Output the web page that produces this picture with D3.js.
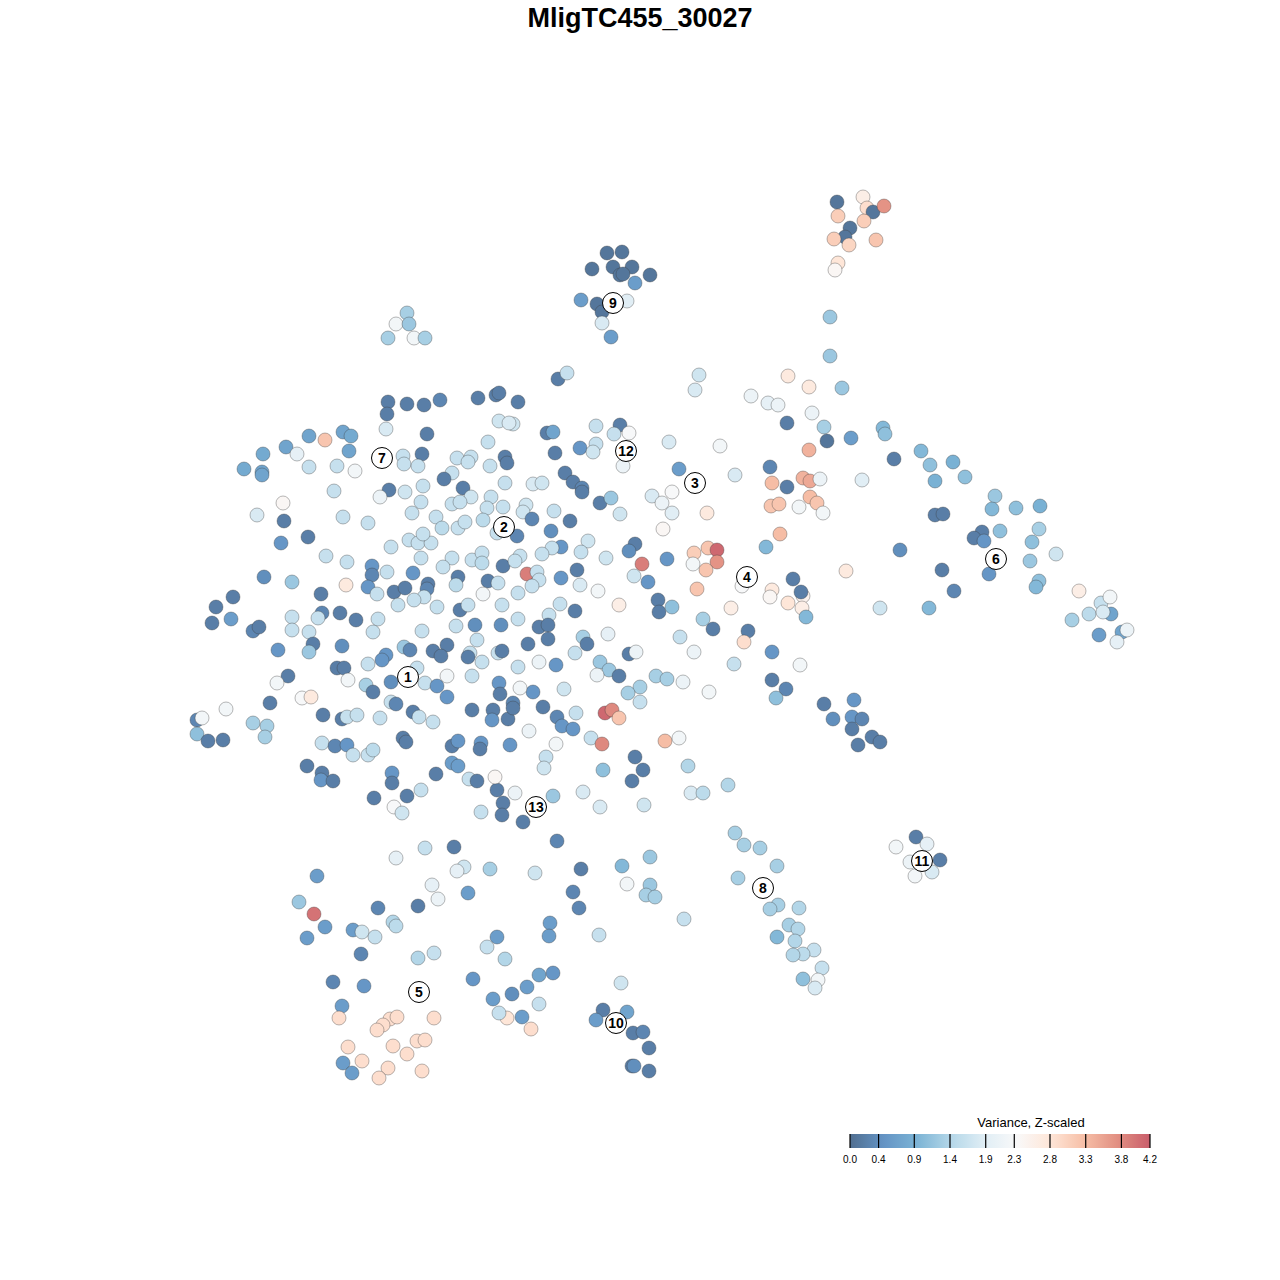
<!DOCTYPE html>
<html>
<head>
<meta charset="utf-8">
<script src="https://cdn.jsdelivr.net/npm/d3@7"></script>
<style>
  body { margin: 0; background: #fff; }
  text { font-family: "Liberation Sans", Arial, sans-serif; }
</style>
</head>
<body>
<div id="chart"></div>
<script>
let svgWidth = 1280;
let svgHeight = 1280;

// t-SNE coordinates [tsne_1, tsne_2, variance z-scaled], grouped by region
let ptsTopRight = [
  [17.7,43.8,0.1],[20.3,44.3,2.6],[20.7,43.2,2.9],[21.3,42.8,0.1],[22.4,43.4,3.7],[17.8,42.4,3.1],
  [20.4,41.9,3.1],[19.0,41.2,0.1],[18.5,40.3,0.1],[17.4,40.1,3.1],[18.9,39.5,3.0],[21.6,40.0,3.2],
  [17.8,37.7,2.8],[17.5,37.0,2.4],[17.0,32.3,1.2],[17.0,28.4,1.2],[18.2,25.2,1.2],[16.4,21.3,1.3],
  [16.7,19.9,0.1],[19.1,20.2,0.6],[22.3,21.2,1.0],[22.5,20.6,1.1],[23.4,18.1,0.2],[26.1,18.9,1.0],
  [27.0,17.5,1.1],[29.3,17.8,0.9],[30.5,16.3,1.1],[27.5,15.9,0.9],[20.2,16.0,1.9]
];

let ptsRight = [
  [33.5,14.4,1.2],[33.2,13.1,1.0],[35.6,13.2,1.1],[38.0,13.4,0.9],[27.5,12.5,0.2],[28.3,12.6,0.2],
  [32.2,10.8,0.2],[31.4,10.2,0.2],[32.4,9.9,0.5],[34.0,10.9,1.1],[37.9,11.1,1.3],[37.2,9.8,1.1],
  [24.0,9.0,0.4],[39.6,8.6,1.7],[37.0,7.9,1.2],[18.6,6.9,2.7],[28.2,7.0,0.2],[32.9,6.6,0.5],
  [37.9,5.9,1.1],[37.6,5.3,1.0],[29.4,4.9,0.3],[41.9,4.9,2.6],[22.0,3.2,1.7],[26.9,3.2,1.0],
  [44.1,3.7,1.6],[45.0,4.3,2.2],[45.1,2.6,0.7],[42.9,2.6,1.5],[44.3,2.8,1.8],[41.2,2.0,1.3],
  [43.9,0.5,0.6],[46.2,0.8,0.7],[46.7,1.0,2.1],[45.7,-0.2,2.0],[19.4,-6.0,0.5],[17.3,-7.9,0.4],
  [19.2,-7.7,0.5],[20.2,-7.9,0.3],[19.2,-8.9,0.2],[21.2,-9.7,0.2],[22.0,-10.2,0.2],[19.8,-10.5,0.2],
  [16.4,-6.4,0.2]
];

let ptsCluster11 = [
  [25.6,-19.7,0.2],[26.7,-20.4,2.0],[23.6,-20.7,2.2],[25.0,-22.2,2.1],[28.0,-22.0,0.2],
  [27.2,-23.2,1.8],[25.5,-23.6,2.2]
];

let ptsBottomMid = [
  [-14.5,-15.3,2.1],[-10.7,-15.6,1.2],[-7.7,-15.2,1.8],[-6.0,-16.7,1.8],[-1.6,-16.5,1.7],[3.1,-15.3,1.8],
  [4.3,-15.3,1.5],[6.8,-14.5,1.4],[-13.7,-18.2,0.2],[-10.3,-20.1,0.3],[7.5,-19.3,1.3],[8.4,-20.5,1.3],
  [10.0,-20.8,1.3],[11.7,-22.6,1.3],[7.8,-23.8,1.3],[-12.5,-23.3,1.7],[-7.9,-22.9,0.2],[-3.8,-22.6,1.0],
  [-1.0,-21.7,1.2],[-3.3,-24.4,2.2],[-1.0,-24.5,1.2],[-1.4,-25.5,1.3],[-0.5,-25.7,1.3],[-8.7,-25.2,0.3],
  [-8.1,-26.8,0.3],[2.4,-27.9,1.6],[11.8,-26.5,1.3],[11.0,-26.9,1.3],[13.9,-26.8,1.4],[12.9,-28.5,1.3],
  [13.8,-28.9,1.4],[11.7,-29.7,1.0],[13.5,-30.1,1.4],[15.4,-31.0,1.6],[14.3,-31.4,1.5],[13.3,-31.5,1.4],
  [16.2,-32.8,1.6],[15.8,-34.0,2.2],[15.5,-34.8,1.8],[14.3,-33.9,1.1],[-11.0,-28.3,0.6],[-11.1,-29.6,0.6],
  [-6.1,-29.5,1.6],[-12.1,-33.5,0.7],[-10.7,-33.3,0.5],[-13.3,-34.7,0.6],[-14.8,-35.4,0.4],[-12.1,-36.4,1.6],
  [-13.8,-37.7,0.6],[-15.3,-37.8,2.8],[-12.9,-38.9,2.9],[-3.9,-34.3,1.7],[-5.7,-37.0,0.2],[-3.3,-37.2,0.7],
  [-6.4,-38.0,0.6],[-2.7,-39.3,0.2],[-1.7,-39.2,0.3],[-1.1,-40.8,0.2],[-2.8,-42.6,0.2],[-2.6,-42.6,0.4],
  [-1.1,-43.1,0.2]
];

let ptsBottomLeft = [
  [-28.6,-15.8,0.2],[-25.3,-15.6,0.2],[-23.9,-15.0,1.6],[-26.6,-16.7,2.3],[-25.8,-17.3,1.7],[-16.3,-15.0,0.2],
  [-15.7,-16.3,0.2],[-15.8,-17.5,0.2],[-17.9,-17.2,1.6],[-23.5,-20.8,1.6],[-20.6,-20.7,0.2],[-26.4,-21.8,2.0],
  [-19.6,-22.7,1.7],[-20.3,-23.1,2.0],[-17.0,-22.9,1.3],[-34.3,-23.6,0.6],[-22.8,-24.5,2.0],[-22.2,-25.9,2.1],
  [-19.2,-25.3,0.6],[-24.2,-26.6,0.2],[-28.2,-26.8,0.3],[-36.1,-26.2,1.2],[-34.6,-27.4,4.0],[-33.5,-28.7,0.6],
  [-35.3,-29.8,0.6],[-30.7,-29.0,0.6],[-29.8,-29.2,1.7],[-28.5,-29.7,1.6],[-26.7,-28.2,1.4],[-26.4,-28.6,1.5],
  [-16.3,-29.7,0.6],[-17.3,-30.7,1.6],[-15.5,-31.9,1.4],[-29.9,-31.4,0.3],[-24.2,-31.8,1.4],[-22.6,-31.3,1.6],
  [-32.7,-34.2,0.3],[-29.6,-34.6,0.5],[-18.7,-33.9,0.5],[-16.7,-35.9,0.6],[-31.8,-36.6,0.6],[-32.1,-37.8,2.9],
  [-16.1,-37.3,1.6],[-27.0,-37.9,2.9],[-26.3,-37.7,2.9],[-27.7,-38.5,2.9],[-28.3,-39.0,2.9],[-22.6,-37.8,2.9],
  [-31.2,-40.7,2.9],[-26.7,-40.6,2.9],[-24.3,-40.1,2.9],[-23.5,-40.0,2.9],[-25.3,-41.4,2.9],[-29.8,-42.1,2.9],
  [-31.7,-42.3,0.6],[-30.8,-43.3,0.6],[-27.2,-42.8,2.9],[-28.1,-43.8,2.9],[-23.8,-43.1,2.9]
];

let ptsTopMid = [
  [-5.3,38.7,0.1],[-3.8,38.8,0.1],[-6.8,37.1,0.1],[-4.7,37.3,0.1],[-2.8,37.3,0.1],[-4.0,36.5,0.1],
  [-3.7,36.6,0.1],[-1.0,36.5,0.1],[-2.5,35.7,0.6],[-7.9,34.0,0.6],[-6.3,33.6,0.1],[-5.8,32.8,0.1],
  [-3.3,33.9,1.9],[-5.8,31.7,1.8],[-4.9,30.3,0.6],[-10.2,26.1,0.2],[-9.3,26.7,1.6],[-14.2,23.8,0.2],
  [3.9,26.5,1.7],[3.5,25.0,1.8],[9.1,24.4,2.1],[10.8,23.7,2.0],[11.8,23.5,2.1],[12.8,26.4,2.7],
  [14.9,25.3,2.7],[15.2,22.7,2.1],[12.7,21.7,0.2],[14.9,19.0,3.4],[-14.7,21.6,1.7],[-11.3,20.7,0.2],
  [-10.7,20.8,0.7],[-6.4,21.4,1.6],[-4.0,21.5,0.2],[-4.6,20.6,1.6],[-3.1,20.7,2.3],[-10.5,18.7,0.2],
  [-8.0,19.2,0.5],[-6.4,19.6,1.6],[-6.7,18.8,1.7],[-3.7,17.4,2.1],[0.9,19.8,1.8],[6.0,19.4,2.2],
  [1.9,17.1,0.6],[7.5,16.5,1.8],[11.0,17.3,0.3],[11.2,15.7,3.3],[12.7,15.3,0.2],[14.3,16.2,3.4],
  [15.0,15.9,3.5],[16.0,16.1,2.1],[-9.5,16.7,0.2],[-8.7,15.8,0.2],[-7.8,15.2,0.3],[-12.7,15.6,1.8],
  [-11.8,15.7,1.7]
];

let ptsTopLeft = [
  [-25.3,32.7,1.3],[-26.4,31.6,2.2],[-25.1,31.6,1.2],[-27.2,30.2,1.3],[-24.6,30.2,2.2],[-23.5,30.2,1.3],
  [-27.2,23.8,0.2],[-25.3,23.6,0.2],[-23.6,23.5,0.2],[-22.0,24.0,0.3],[-27.3,22.6,0.2],[-18.2,24.2,0.2],
  [-16.4,24.5,0.2],[-16.1,24.7,0.2],[-27.4,21.1,1.8],[-23.3,20.6,0.2],[-16.1,21.9,1.7],[-15.1,21.7,1.8],
  [-35.1,20.4,0.7],[-33.5,20.0,3.2],[-31.7,20.8,0.7],[-30.9,20.4,0.8],[-31.1,18.9,0.7],[-17.2,19.8,1.6],
  [-37.4,19.3,0.7],[-39.7,18.6,0.8],[-36.3,18.6,2.0],[-23.8,18.6,0.2],[-25.7,18.4,1.6],[-25.6,17.6,1.6],
  [-24.2,17.4,1.6],[-41.6,17.1,0.8],[-39.8,16.8,0.7],[-39.8,16.5,0.7],[-35.1,17.3,1.6],[-32.3,17.4,1.6],
  [-30.5,16.9,2.2],[-20.3,18.2,1.6],[-18.9,18.3,1.6],[-19.2,17.8,1.6],[-20.8,16.7,1.6],[-21.6,16.1,0.2],
  [-17.0,17.4,1.6],[-15.5,18.3,0.2],[-15.3,17.7,0.2],[-15.5,15.7,1.6],[-27.1,15.0,0.2],[-25.5,14.8,1.7],
  [-23.7,15.4,1.6],[-19.7,15.2,0.2],[-32.6,14.9,1.6]
];

let ptsMidLeft = [
  [-28.0,14.3,2.1],[-37.7,13.7,2.4],[-40.3,12.5,1.8],[-37.6,11.9,0.2],[-31.7,12.3,1.6],[-29.2,11.7,1.6],
  [-24.8,12.7,1.6],[-23.9,13.8,1.6],[-22.4,12.3,1.6],[-20.8,13.6,1.6],[-18.9,14.3,1.7],[-20.0,13.8,1.6],
  [-16.9,14.3,1.6],[-17.3,13.2,1.6],[-15.7,13.3,1.6],[-17.7,12.0,1.5],[-21.8,11.2,1.5],[-20.2,11.2,1.6],
  [-19.5,11.8,1.6],[-16.3,10.7,1.6],[-35.2,10.3,0.2],[-37.9,9.7,0.5],[-25.1,10.0,1.6],[-24.2,9.7,1.6],
  [-22.9,9.7,1.6],[-23.7,10.6,1.6],[-26.9,9.3,1.6],[-23.9,8.2,1.6],[-18.8,8.0,1.6],[-17.8,8.7,1.6],
  [-17.8,7.7,1.5],[-20.8,8.2,1.6],[-21.7,7.3,1.6],[-15.7,7.4,0.2],[-33.4,8.4,1.6],[-31.3,7.8,1.6],
  [-28.8,7.4,0.5],[-28.8,6.5,0.3],[-27.3,6.8,1.6],[-24.7,6.7,0.5],[-20.2,6.3,0.2],[-39.6,6.3,0.4],
  [-36.8,5.8,1.2],[-31.4,5.5,2.7],[-29.2,5.3,0.5],[-28.3,4.6,1.6],[-26.6,4.8,0.2],[-25.5,5.2,0.2],
  [-23.2,5.6,0.2],[-23.3,5.1,0.3],[-23.6,4.3,1.6],[-24.6,4.0,1.6],[-26.2,3.5,1.6],[-22.3,3.3,1.6],
  [-20.4,5.5,1.5],[-17.2,5.9,0.2],[-16.2,5.7,1.6],[-17.7,4.6,2.2],[-42.7,4.3,0.2],[-44.4,3.3,0.2],
  [-44.8,1.7,0.2],[-42.9,2.1,0.6],[-33.9,4.6,0.2],[-33.8,2.7,0.3],[-32.0,2.7,0.2],[-30.4,2.0,0.2],
  [-36.8,2.3,1.6],[-34.2,2.2,1.6],[-36.8,1.0,1.6],[-35.1,0.8,1.6],[-28.2,2.1,1.6],[-28.7,0.8,1.6],
  [-20.0,3.0,0.2],[-19.2,3.5,1.6],[-15.8,3.5,1.6],[-20.4,1.4,1.6],[-18.5,1.5,0.4],[-15.9,1.5,0.4],
  [-18.3,0.0,1.6],[-23.8,0.9,1.6],[-40.7,0.9,0.3],[-40.1,1.3,0.2],[-34.7,-0.4,0.2],[-35.1,-1.2,1.2],
  [-31.8,-0.6,0.4],[-38.2,-1.0,0.5],[-25.6,-0.7,1.2],[-25.0,-1.0,0.3],[-27.4,-1.5,0.5],[-27.8,-2.0,0.5],
  [-22.7,-1.1,0.2],[-21.3,-0.5,0.2],[-21.9,-1.6,0.2],[-19.0,-1.3,1.6],[-19.2,-1.7,0.2],[-17.8,-2.2,1.6],
  [-16.2,-1.3,1.6],[-15.8,-1.1,0.2],[-29.2,-2.4,1.6],[-32.3,-2.8,0.2],[-31.6,-2.8,0.2],[-37.2,-3.6,0.2],
  [-38.3,-4.3,2.2],[-31.2,-4.0,2.2],[-24.3,-2.8,1.6],[-21.3,-3.6,2.2],[-18.8,-3.6,1.6],[-23.5,-4.3,1.6],
  [-26.9,-4.2,0.4],[-29.4,-4.5,1.3],[-28.7,-5.2,0.2],[-22.3,-4.6,0.5],[-21.3,-5.7,0.5],[-16.1,-4.3,0.5],
  [-16.0,-5.4,0.2],[-35.8,-5.8,2.3],[-34.9,-5.7,2.7],[-39.0,-6.3,0.2],[-43.4,-6.9,2.2],[-46.3,-8.0,0.3],
  [-45.8,-7.8,2.2],[-46.3,-9.4,1.1],[-45.2,-10.1,0.2],[-43.7,-10.0,0.2],[-40.7,-8.3,1.3],[-39.3,-8.6,1.3],
  [-39.5,-9.7,1.3],[-33.7,-7.5,0.2],[-31.8,-7.9,0.2],[-31.3,-7.7,1.6],[-30.3,-7.5,1.6],[-28.0,-7.8,1.6],
  [-26.9,-6.2,1.6],[-26.4,-6.4,0.3],[-24.7,-7.2,0.2],[-24.1,-7.7,1.6],[-22.7,-8.2,1.6],[-18.8,-7.0,0.2],
  [-16.7,-7.0,0.2],[-16.8,-8.0,0.5],[-15.2,-7.9,0.2],[-25.7,-9.8,0.2],[-25.4,-10.2,0.2],[-33.8,-10.3,1.6],
  [-32.5,-10.6,0.3],[-31.3,-10.5,0.5],[-30.7,-11.5,1.6],[-29.2,-11.5,1.6],[-28.7,-11.0,1.5],[-20.8,-10.6,0.2],
  [-20.2,-10.1,0.5],[-17.9,-10.3,0.5],[-18.0,-10.9,0.2],[-15.0,-10.5,0.5],[-35.3,-12.6,0.2],[-33.8,-13.3,0.2],
  [-33.9,-14.0,0.5],[-32.7,-14.1,0.2],[-26.8,-13.3,0.5],[-26.8,-14.3,0.2],[-22.4,-13.4,0.2],[-20.8,-12.3,0.6],
  [-20.2,-12.6,0.6],[-19.1,-13.9,1.6],[-18.3,-14.1,0.2],[-16.5,-13.7,2.4]
];

let ptsCenter = [
  [-7.8,14.8,0.2],[-6.0,13.7,0.2],[-4.9,14.2,1.2],[-4.0,12.6,1.7],[-0.8,14.4,1.8],[0.2,13.7,2.1],
  [1.2,14.8,2.3],[1.2,12.7,1.9],[4.7,12.7,2.7],[0.3,11.1,2.4],[-13.4,13.5,1.7],[-13.7,12.8,1.7],
  [-12.8,12.1,0.3],[-10.6,12.9,1.6],[-9.0,11.9,0.2],[-14.3,10.4,0.3],[-10.9,10.9,0.4],[-9.9,9.3,0.5],
  [-10.8,9.2,1.6],[-7.2,9.9,1.7],[-7.9,8.8,1.6],[-11.8,8.6,1.6],[-14.0,8.4,1.6],[-14.5,7.9,1.6],
  [-5.4,8.2,1.7],[-2.5,9.6,0.2],[-3.1,8.9,0.4],[-1.8,7.6,3.9],[0.7,8.1,0.5],[3.4,8.7,3.1],
  [3.3,7.6,2.2],[4.8,9.2,3.2],[5.7,9.0,4.1],[5.7,7.8,3.7],[4.6,7.0,3.2],[3.7,5.1,3.2],
  [-13.3,6.6,3.9],[-12.3,6.8,1.6],[-12.1,6.0,1.6],[-12.8,5.4,1.6],[-14.2,4.7,1.6],[-9.9,6.2,0.5],
  [-8.3,7.0,0.2],[-8.0,5.5,1.8],[-6.2,4.9,2.2],[-2.6,6.4,1.7],[-1.2,5.8,0.5],[-4.1,3.5,2.6],
  [-0.2,4.0,0.2],[-0.1,2.8,0.2],[1.2,3.3,1.1],[-14.2,2.1,1.6],[-10.0,3.6,1.6],[-11.1,2.5,1.6],
  [-12.1,1.3,0.2],[-11.2,1.5,0.2],[-8.5,2.9,0.2],[-11.2,0.1,0.2],[-13.2,-0.4,0.2],[-7.7,0.3,1.3],
  [-7.3,-0.4,0.2],[-5.2,0.6,2.0],[-8.5,-1.3,1.6],[-12.1,-2.2,2.1],[-10.4,-2.5,0.5],[-14.2,-2.7,1.6],
  [-3.1,-1.4,0.2],[-2.4,-1.2,2.1],[-6.0,-2.2,1.2],[-5.1,-3.0,1.2],[-6.3,-3.5,2.1],[-4.1,-3.6,0.2],
  [4.3,2.1,1.3],[5.3,1.1,0.2],[2.0,0.3,1.6],[3.4,-1.2,2.1],[7.4,-2.4,1.6],[8.8,0.9,0.2],
  [8.4,-0.2,2.9],[7.1,3.2,2.6],[8.2,5.4,2.3],[11.2,5.0,2.7],[11.0,4.3,2.4],[12.8,3.7,2.8],
  [14.3,4.4,2.5],[14.2,3.2,2.6],[14.6,2.3,1.0],[13.3,6.1,0.2],[14.1,4.8,0.2],[10.6,9.3,1.0],
  [12.0,10.6,3.3],[11.1,13.4,3.2],[11.9,13.6,3.2],[15.0,14.3,3.3],[15.7,13.7,3.2],[13.9,13.3,2.2],
  [16.3,12.7,2.2],[14.0,-2.5,2.2],[11.2,-1.2,0.5],[11.2,-4.0,0.2],[12.6,-4.9,0.3],[11.6,-5.8,1.1],
  [-0.4,-3.6,1.3],[0.7,-3.9,1.3],[2.3,-4.2,2.1],[4.9,-5.2,2.2],[-2.0,-4.7,1.3],[-3.2,-5.3,1.3],
  [-2.0,-6.2,1.6],[-9.6,-4.9,1.7],[-12.7,-5.2,0.5],[-14.0,-4.8,2.2],[-14.7,-6.3,0.3],[-14.7,-6.8,0.2],
  [-11.7,-6.7,0.2],[-10.3,-7.7,0.3],[-9.8,-8.6,0.5],[-8.7,-8.9,0.5],[-8.4,-7.3,1.6],[-13.1,-9.1,2.1],
  [-10.4,-10.4,2.2],[-11.4,-11.7,1.6],[-11.6,-12.8,1.7],[-6.9,-9.8,1.6],[-5.8,-10.4,3.8],[-5.5,-7.3,4.1],
  [-4.8,-7.0,3.8],[-4.1,-7.8,3.2],[0.5,-10.1,3.3],[1.9,-9.8,2.2],[-2.5,-11.7,0.2],[-1.7,-13.0,0.2],
  [-2.8,-14.1,0.2],[-5.7,-13.0,1.1],[2.8,-12.6,1.4]
];

// cluster labels placed at centroids
let clusterIds = ['1','2','3','4','5','6','7','8','9','10','11','12','13'];
let clusterPos = [
  [-25.2,-3.7],[-15.6,11.3],[3.5,15.7],[8.7,6.3],[-24.1,-35.2],[33.6,8.1],[-27.8,18.2],
  [10.3,-24.8],[-4.7,33.7],[-4.4,-38.3],[26.2,-22.1],[-3.4,18.9],[-12.4,-16.7]
];

// legend
let legendTicks = [0.0, 0.4, 0.9, 1.4, 1.9, 2.3, 2.8, 3.3, 3.8, 4.2];
let paletteColors = ['#053061','#2166AC','#4393C3','#92C5DE','#D1E5F0','#F7F7F7','#FDDBC7','#F4A582','#D6604D','#B2182B'];
let varMax = 4.2;

let allPoints = [].concat(ptsTopRight, ptsRight, ptsCluster11, ptsBottomMid, ptsBottomLeft,
  ptsTopMid, ptsTopLeft, ptsMidLeft, ptsCenter);

let svg = d3.select('#chart')
  .append('svg')
  .attr('width', svgWidth)
  .attr('height', svgHeight);

// Scales
let xScale = d3.scaleLinear().domain([-50, 50]).range([160, 1160]);
let yScale = d3.scaleLinear().domain([-50, 50]).range([1140, 140]);

// colours are the palette seen through 0.7 alpha on white
let blended = paletteColors.map(c => d3.interpolateRgb('#ffffff', c)(0.7));
let colorScale = d3.scaleLinear()
  .domain(d3.range(paletteColors.length).map(i => i * varMax / (paletteColors.length - 1)))
  .range(blended)
  .clamp(true);

// Title
svg.append('text')
  .attr('x', 640)
  .attr('y', 27)
  .attr('text-anchor', 'middle')
  .style('font-size', '27px')
  .style('font-weight', 'bold')
  .text('MligTC455_30027');

// Points
svg.append('g')
  .selectAll('circle')
  .data(allPoints)
  .enter()
  .append('circle')
  .attr('cx', d => xScale(d[0]))
  .attr('cy', d => yScale(d[1]))
  .attr('r', 7)
  .attr('fill', d => colorScale(d[2]))
  .attr('stroke', '#3a3a3a')
  .attr('stroke-opacity', 0.45)
  .attr('stroke-width', 0.8);

// Cluster labels
let labelGroup = svg.append('g')
  .selectAll('g')
  .data(clusterIds)
  .enter()
  .append('g')
  .attr('transform', (d, i) => `translate(${xScale(clusterPos[i][0])}, ${yScale(clusterPos[i][1])})`);

labelGroup.append('circle')
  .attr('r', 10.5)
  .attr('fill', '#ffffff')
  .attr('stroke', '#000')
  .attr('stroke-width', 1);

labelGroup.append('text')
  .attr('text-anchor', 'middle')
  .attr('dy', '0.36em')
  .style('font-size', '14px')
  .style('font-weight', 'bold')
  .text(d => d);

// Legend
let legendScale = d3.scaleLinear().domain([0, varMax]).range([850, 1150]);
let legendTop = 1134;
let legendH = 14;

let grad = svg.append('defs')
  .append('linearGradient')
  .attr('id', 'varGrad')
  .attr('x1', '0%').attr('x2', '100%')
  .attr('y1', '0%').attr('y2', '0%');

grad.selectAll('stop')
  .data(d3.range(0, 1.0001, 0.02))
  .enter()
  .append('stop')
  .attr('offset', d => (d * 100) + '%')
  .attr('stop-color', d => colorScale(d * varMax));

svg.append('rect')
  .attr('x', legendScale(0))
  .attr('y', legendTop)
  .attr('width', legendScale(varMax) - legendScale(0))
  .attr('height', legendH)
  .attr('fill', 'url(#varGrad)');

svg.append('g')
  .selectAll('line')
  .data(legendTicks)
  .enter()
  .append('line')
  .attr('x1', d => legendScale(d))
  .attr('x2', d => legendScale(d))
  .attr('y1', legendTop)
  .attr('y2', legendTop + legendH)
  .attr('stroke', '#000')
  .attr('stroke-width', 1.2);

svg.append('g')
  .selectAll('text')
  .data(legendTicks)
  .enter()
  .append('text')
  .attr('x', d => legendScale(d))
  .attr('y', 1163)
  .attr('text-anchor', 'middle')
  .style('font-size', '10px')
  .text(d => d.toFixed(1));

svg.append('text')
  .attr('x', 1031)
  .attr('y', 1127)
  .attr('text-anchor', 'middle')
  .style('font-size', '13px')
  .text('Variance, Z-scaled');
</script>
</body>
</html>
